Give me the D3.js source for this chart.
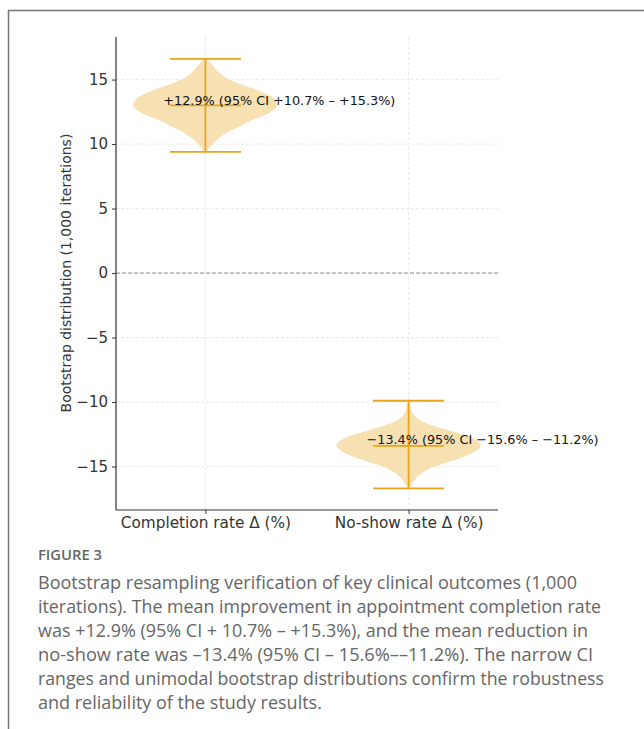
<!DOCTYPE html>
<html>
<head>
<meta charset="utf-8">
<script src="https://cdn.jsdelivr.net/npm/d3@7/dist/d3.min.js"></script>
<style>
  body { margin: 0; background: #fff; }
  svg { display: block; }
</style>
</head>
<body>
<svg id="chart" width="644" height="729"></svg>
<script>
// data
const categories = ['Completion rate Δ (%)', 'No-show rate Δ (%)'];
const means = [12.9, -13.4];
const ciLow = [10.7, -15.6];
const ciHigh = [15.3, -11.2];
const mins = [9.4, -16.7];
const maxs = [16.6, -9.9];
const centers = [13.0, -13.4];
const labels = ['+12.9% (95% CI +10.7% – +15.3%)', '−13.4% (95% CI −15.6% – −11.2%)'];

// violin outlines: value, relative density
const completionKde = [
  [9.4, 0.02], [9.7, 0.05], [10.1, 0.12], [10.5, 0.2], [10.9, 0.3], [11.3, 0.45],
  [11.7, 0.58], [12.1, 0.76], [12.6, 0.94], [13.0, 1.0], [13.5, 0.96], [13.9, 0.84],
  [14.3, 0.66], [14.7, 0.46], [15.1, 0.3], [15.5, 0.2], [15.9, 0.13], [16.3, 0.07], [16.6, 0.02]
];
const noShowKde = [
  [-16.7, 0.01], [-16.3, 0.05], [-16.0, 0.09], [-15.6, 0.16], [-15.3, 0.24], [-15.0, 0.36],
  [-14.7, 0.52], [-14.3, 0.74], [-13.8, 0.93], [-13.4, 1.0], [-13.1, 0.97], [-12.7, 0.85],
  [-12.2, 0.56], [-11.7, 0.28], [-11.3, 0.13], [-10.9, 0.06], [-10.4, 0.03], [-9.9, 0.01]
];
const kdes = [completionKde, noShowKde];
const yTicks = [-15, -10, -5, 0, 5, 10, 15];

const captionTitle = 'FIGURE 3';
const captionLines = [
  'Bootstrap resampling verification of key clinical outcomes (1,000',
  'iterations). The mean improvement in appointment completion rate',
  'was +12.9% (95% CI + 10.7% – +15.3%), and the mean reduction in',
  'no-show rate was –13.4% (95% CI – 15.6%––11.2%). The narrow CI',
  'ranges and unimodal bootstrap distributions confirm the robustness',
  'and reliability of the study results.'
];
// rendered line widths of the caption (layout); last line keeps its natural width
const captionWidths = [539, 563, 550, 555, 566, null];

const svg = d3.select('#chart');
const orange = '#eca31c';
const fillCol = '#f7e1b3';

// frame
svg.append('path')
  .attr('d', 'M8.5,729 L8.5,10.5 L644,10.5')
  .attr('fill', 'none')
  .attr('stroke', '#74737f')
  .attr('stroke-width', 1.5);

const plot = { left: 116, right: 498, top: 37, bottom: 510 };

const x = d3.scaleLinear().domain([0.56, 2.44]).range([plot.left, plot.right]);
const y = d3.scaleLinear().domain([-18.37, 18.3]).range([plot.bottom, plot.top]);

const g = svg.append('g');

// grid
g.selectAll('.hgrid').data(yTicks.filter(d => d !== 0)).join('line')
  .attr('x1', plot.left).attr('x2', plot.right)
  .attr('y1', d => y(d)).attr('y2', d => y(d))
  .attr('stroke', '#e3e3e3').attr('stroke-width', 0.8)
  .attr('stroke-dasharray', '3,2');
g.selectAll('.vgrid').data([1, 2]).join('line')
  .attr('x1', d => x(d)).attr('x2', d => x(d))
  .attr('y1', plot.top).attr('y2', plot.bottom)
  .attr('stroke', '#e3e3e3').attr('stroke-width', 0.8)
  .attr('stroke-dasharray', '3,2');

// zero line
g.append('line')
  .attr('x1', plot.left).attr('x2', plot.right)
  .attr('y1', y(0)).attr('y2', y(0))
  .attr('stroke', '#888').attr('stroke-width', 1)
  .attr('stroke-dasharray', '4,2');

// violins
const halfW = 0.355;
const capW = 0.175;
kdes.forEach((kde, i) => {
  const pos = i + 1;
  const area = d3.area()
    .y(d => y(d[0]))
    .x0(d => x(pos - d[1] * halfW))
    .x1(d => x(pos + d[1] * halfW))
    .curve(d3.curveCatmullRom);
  g.append('path')
    .datum(kde)
    .attr('d', area)
    .attr('fill', fillCol)
    .attr('stroke', 'none');
});

// whiskers, caps, centre lines
[0, 1].forEach(i => {
  const pos = i + 1;
  g.append('line')
    .attr('x1', x(pos)).attr('x2', x(pos))
    .attr('y1', y(mins[i])).attr('y2', y(maxs[i]))
    .attr('stroke', orange).attr('stroke-width', 1.8);
  [mins[i], maxs[i], centers[i]].forEach(v => {
    g.append('line')
      .attr('x1', x(pos - capW)).attr('x2', x(pos + capW))
      .attr('y1', y(v)).attr('y2', y(v))
      .attr('stroke', orange).attr('stroke-width', 1.8);
  });
  g.append('text')
    .attr('x', x(pos - 0.207))
    .attr('y', y(means[i]) - 1.5)
    .attr('font-family', 'DejaVu Sans')
    .attr('font-size', 12.8)
    .attr('fill', '#111')
    .text(labels[i]);
});

// axes
const yAxis = d3.axisLeft(y).tickValues(yTicks).tickSize(4).tickPadding(4)
  .tickFormat(d => d < 0 ? '−' + Math.abs(d) : d);
const ya = svg.append('g').attr('transform', `translate(${plot.left},0)`).call(yAxis);
ya.select('.domain').attr('d', `M0,${plot.top}V${plot.bottom}`).attr('stroke', '#333').attr('stroke-width', 1.2);
ya.selectAll('.tick line').attr('stroke', '#333');
ya.selectAll('.tick text').attr('font-family', 'DejaVu Sans').attr('font-size', 15).attr('fill', '#333');

const xAxis = d3.axisBottom(x).tickValues([1, 2]).tickSize(4).tickPadding(3)
  .tickFormat(d => categories[d - 1]);
const xa = svg.append('g').attr('transform', `translate(0,${plot.bottom})`).call(xAxis);
xa.select('.domain').attr('d', `M${plot.left},0H${plot.right}`).attr('stroke', '#333').attr('stroke-width', 1.2);
xa.selectAll('.tick line').attr('stroke', '#333');
xa.selectAll('.tick text').attr('font-family', 'DejaVu Sans').attr('font-size', 15.3).attr('fill', '#333');

// y label
svg.append('text')
  .attr('transform', `translate(71,${y(0)}) rotate(-90)`)
  .attr('text-anchor', 'middle')
  .attr('font-family', 'DejaVu Sans')
  .attr('font-size', 14)
  .attr('fill', '#333')
  .text('Bootstrap distribution (1,000 iterations)');

// caption
svg.append('text')
  .attr('x', 38).attr('y', 560)
  .attr('font-family', 'Open Sans')
  .attr('font-size', 15)
  .attr('font-weight', 600)
  .attr('fill', '#666')
  .attr('textLength', 64)
  .attr('lengthAdjust', 'spacingAndGlyphs')
  .text(captionTitle);

svg.append('g').selectAll('text').data(captionLines).join('text')
  .attr('x', 38)
  .attr('y', (d, i) => 589 + i * 24)
  .attr('font-family', 'Open Sans')
  .attr('font-size', 18)
  .attr('fill', '#666')
  .attr('textLength', (d, i) => captionWidths[i])
  .attr('lengthAdjust', 'spacingAndGlyphs')
  .text(d => d);
</script>
</body>
</html>
